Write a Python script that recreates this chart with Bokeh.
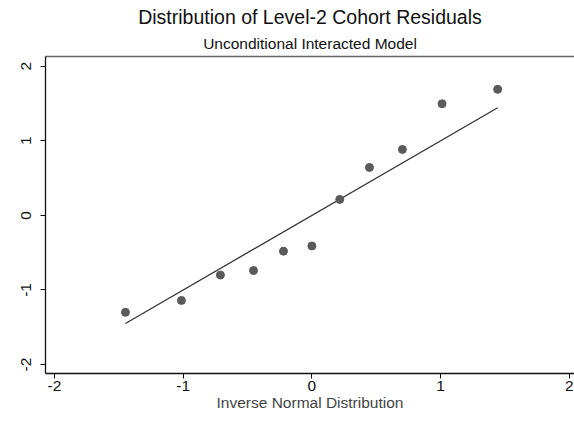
from bokeh.plotting import figure
from bokeh.models import Range1d, LinearAxis, FixedTicker, Title, ColumnDataSource
from bokeh.embed import file_html
from bokeh.resources import INLINE

# Data
inv_normal = [-1.449, -1.014, -0.711, -0.454, -0.221, 0.0, 0.216, 0.447, 0.703, 1.011, 1.443]
residuals = [-1.30, -1.14, -0.80, -0.74, -0.48, -0.41, 0.214, 0.643, 0.884, 1.496, 1.69]
ref_x = [min(inv_normal), max(inv_normal)]
ref_y = [min(inv_normal), max(inv_normal)]
ticks = [-2, -1, 0, 1, 2]
tick_labels = {-2: "-2", -1: "-1", 0: "0", 1: "1", 2: "2"}

FONT = "Liberation Sans"

p = figure(width=574, height=421, output_backend="svg", toolbar_location=None,
           x_range=Range1d(-2.07, 2.04), y_range=Range1d(-2.12, 2.13),
           min_border_left=45, min_border_right=0, min_border_bottom=48, min_border_top=56,
           x_axis_label="Inverse Normal Distribution")
p.outline_line_color = None
p.xgrid.visible = False
p.ygrid.visible = False
p.background_fill_color = "white"
p.border_fill_color = "white"

p.line(ref_x, ref_y, line_color="#333333", line_width=1.3)
src = ColumnDataSource(dict(x=inv_normal, y=residuals))
p.scatter("x", "y", source=src, size=8, fill_color="#5a5a5a", line_color="#5a5a5a")

for ax in (p.xaxis[0], p.yaxis[0]):
    ax.ticker = FixedTicker(ticks=ticks)
    ax.major_label_overrides = tick_labels
    ax.minor_tick_line_color = None
    ax.axis_line_color = "#111111"
    ax.axis_line_width = 1.3
    ax.major_tick_line_color = "#111111"
    ax.major_tick_out = 5
    ax.major_tick_in = 0
    ax.major_label_text_font = FONT
    ax.major_label_text_font_size = "15.5px"
    ax.major_label_text_color = "#111111"

p.xaxis[0].major_label_standoff = 2
p.xaxis[0].axis_label_text_font = FONT
p.xaxis[0].axis_label_text_font_size = "15.5px"
p.xaxis[0].axis_label_text_font_style = "normal"
p.xaxis[0].axis_label_standoff = 0
p.yaxis[0].major_label_orientation = "vertical"
p.yaxis[0].major_label_standoff = 9

top = LinearAxis(ticker=FixedTicker(ticks=[]), axis_line_color="#666666", axis_line_width=1.5,
                 major_tick_line_color=None, minor_tick_line_color=None)
p.add_layout(top, "above")

sub = Title(text="Unconditional Interacted Model", align="center", text_font=FONT,
            text_font_size="15.5px", text_font_style="normal", text_color="#111111")
main = Title(text="Distribution of Level-2 Cohort Residuals", align="center", text_font=FONT,
             text_font_size="19.5px", text_font_style="normal", text_color="#111111",
             standoff=0)
p.add_layout(sub, "above")
p.add_layout(main, "above")

open("out.html", "w").write(file_html(p, INLINE))
